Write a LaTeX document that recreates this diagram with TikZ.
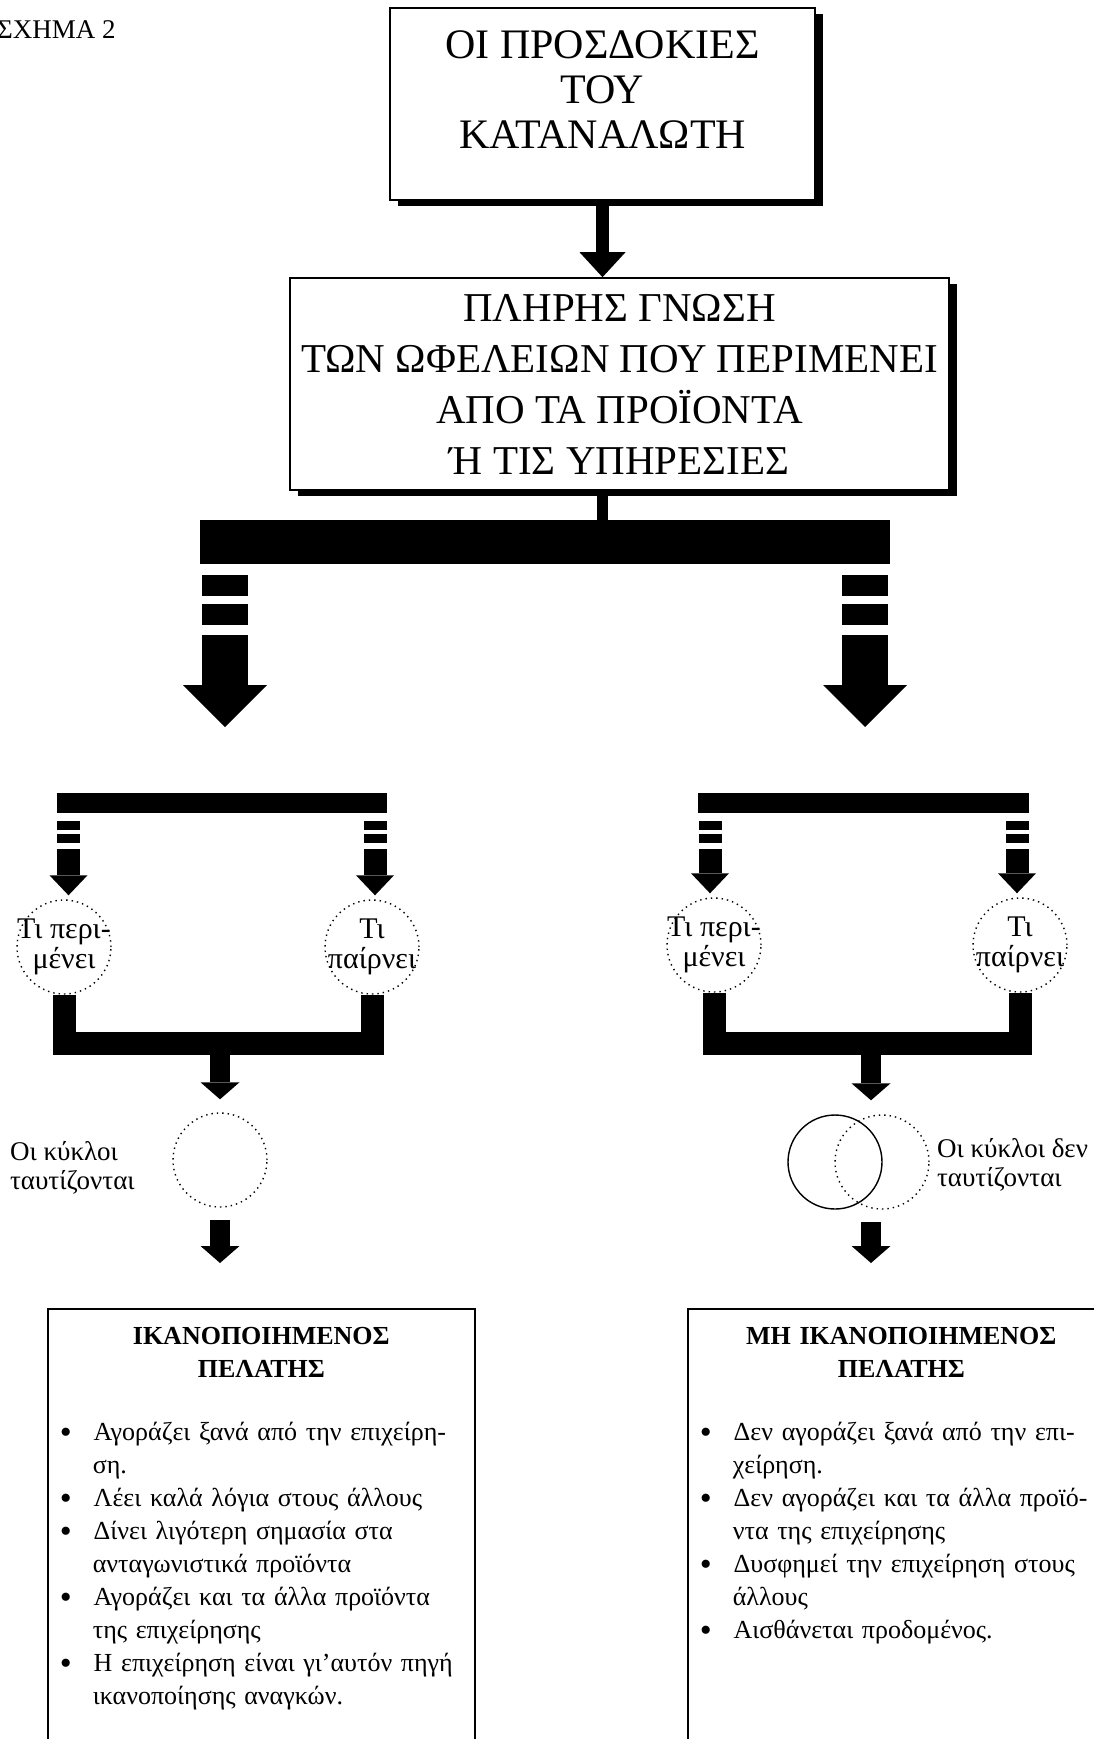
\documentclass[tikz,border=0pt]{standalone}
\usepackage{fontspec}
\setmainfont{Liberation Serif}
\usepackage{enumitem}
\usetikzlibrary{arrows.meta, positioning, shadows}

\tikzset{
  headbox/.style={draw, line width=0.8pt, fill=white, align=center, inner xsep=2pt,
    drop shadow={shadow xshift=4pt, shadow yshift=-3pt, opacity=1, fill=black}},
  ring/.style={circle, draw, dotted, line width=0.7pt, minimum size=47pt, inner sep=-6pt,
    align=center, font=\fontsize{15}{15}\selectfont},
  bigarrow/.style={line width=23pt, -{Triangle[width=42pt, length=21pt, line width=0pt]},
    dash pattern=on 11pt off 5.5pt on 10.5pt off 4pt on 10.5pt off 5pt on 200pt off 1pt},
  smallarrow/.style={line width=11.5pt, -{Triangle[width=19pt, length=10pt, line width=0pt]},
    dash pattern=on 5pt off 4pt on 4.5pt off 2pt on 4.5pt off 3pt on 100pt off 1pt},
  midarrow/.style={line width=10pt, -{Triangle[width=19.5pt, length=8.5pt, line width=0pt]}},
  ubar/.style={line width=11.5pt, line join=miter},
  outcome/.style={draw, line width=0.8pt, anchor=north west, text width=201.5pt,
    inner xsep=6pt, inner ysep=9pt, text depth=203pt, font=\fontsize{13}{16.5}\selectfont},
  sidetext/.style={anchor=west, align=left, font=\fontsize{13.5}{14.5}\selectfont}
}
\setlist[itemize]{label={\raisebox{-1.6pt}{\fontsize{17}{17}\selectfont\textbullet}}, leftmargin=16.5pt, labelsep=11pt,
  labelwidth=5.5pt, align=left, topsep=15pt, partopsep=0pt, itemsep=0pt, parsep=0pt, rightmargin=-20pt}

\begin{document}
\begin{tikzpicture}[x=0.5pt, y=-0.5pt]
  \useasboundingbox (0,0) rectangle (1093,1739);
  \node (fig) [anchor=west, font=\fontsize{13.5}{13.5}\selectfont] at (-10,30) {ΣΧΗΜΑ 2};
  \node (exp) [headbox, minimum width=212.5pt, minimum height=96pt, font=\fontsize{21}{22.5}\selectfont] at (602.5,104)
    {ΟΙ ΠΡΟΣΔΟΚΙΕΣ\\ΤΟΥ\\ΚΑΤΑΝΑΛΩΤΗ\rule[-14pt]{0pt}{14pt}};
  \node (know) [headbox, minimum width=329.5pt, minimum height=106pt, font=\fontsize{20.5}{25.5}\selectfont] at (619.5,384)
    {ΠΛΗΡΗΣ ΓΝΩΣΗ\\ΤΩΝ ΩΦΕΛΕΙΩΝ ΠΟΥ ΠΕΡΙΜΕΝΕΙ\\ΑΠΟ ΤΑ ΠΡΟΪΟΝΤΑ\\Ή ΤΙΣ ΥΠΗΡΕΣΙΕΣ};
  \coordinate (bl) at (225,542);
  \coordinate (br) at (865,542);
  \coordinate (al) at (225,727);
  \coordinate (ar) at (865,727);
  \draw[line width=6.5pt, -{Triangle[width=23pt, length=12.5pt, line width=0pt]}] (exp.south) -- (exp.south |- know.north);
  \draw[line width=5.5pt] (exp.south |- know.south) -- (exp.south |- bl);
  \draw[line width=22pt] ([xshift=-12.5pt]bl) -- ([xshift=12.5pt]br);
  \draw[bigarrow] (bl) -- (al);
  \draw[bigarrow] (br) -- (ar);

  \coordinate (tl1) at (68.5,803);
  \coordinate (tl2) at (375,803);
  \node (pl) [ring] at (64,947) {Τι περι-\\μένει};
  \node (pr) [ring] at (372,947) {Τι\\παίρνει};
  \draw[line width=10pt] ([xshift=-6pt]tl1) -- ([xshift=6pt]tl2);
  \draw[smallarrow, shorten >=2pt] (tl1) -- (tl1 |- pl.north);
  \draw[smallarrow, shorten >=2pt] (tl2) -- (tl2 |- pr.north);
  \coordinate (ml) at (220,1043.5);
  \draw[ubar] (pl.south) |- (ml) -| (pr.south);
  \node (same) [ring] at (220,1160) {};
  \draw[midarrow, shorten >=6.5pt] (ml) -- (ml |- same.north);
  \node (samelbl) [sidetext] at (3,1168) {Οι κύκλοι\\ταυτίζονται};

  \coordinate (tr1) at (710,803);
  \coordinate (tr2) at (1017,803);
  \node (ql) [ring] at (714,945) {Τι περι-\\μένει};
  \node (qr) [ring] at (1020,945) {Τι\\παίρνει};
  \draw[line width=10pt] ([xshift=-6pt]tr1) -- ([xshift=6pt]tr2);
  \draw[smallarrow, shorten >=2pt] (tr1) -- (tr1 |- ql.north);
  \draw[smallarrow, shorten >=2pt] (tr2) -- (tr2 |- qr.north);
  \coordinate (mr) at (871,1043.5);
  \draw[ubar] (ql.south) |- (mr) -| (qr.south);
  \node (diffa) [ring, solid] at (835,1162) {};
  \node (diffb) [ring] at (882,1162) {};
  \draw[midarrow, shorten >=7pt] (mr) -- (mr |- diffb.north);
  \node (difflbl) [sidetext] at (930,1165) {Οι κύκλοι δεν\\ταυτίζονται};

  \node (sat) [outcome] at (47,1308) {{\centering\bfseries ΙΚΑΝΟΠΟΙΗΜΕΝΟΣ\\ΠΕΛΑΤΗΣ\par}
    \raggedright
    \begin{itemize}
      \item Αγοράζει ξανά από την επιχείρη-\\ση.
      \item Λέει καλά λόγια στους άλλους
      \item Δίνει λιγότερη σημασία στα\\ανταγωνιστικά προϊόντα
      \item Αγοράζει και τα άλλα προϊόντα\\της επιχείρησης
      \item Η επιχείρηση είναι γι'αυτόν πηγή\\ικανοποίησης αναγκών.
    \end{itemize}};
  \node (unsat) [outcome] at (687,1308) {{\centering\bfseries ΜΗ ΙΚΑΝΟΠΟΙΗΜΕΝΟΣ\\ΠΕΛΑΤΗΣ\par}
    \raggedright
    \begin{itemize}
      \item Δεν αγοράζει ξανά από την επι-\\χείρηση.
      \item Δεν αγοράζει και τα άλλα προϊό-\\ντα της επιχείρησης
      \item Δυσφημεί την επιχείρηση στους\\άλλους
      \item Αισθάνεται προδομένος.
    \end{itemize}};
  \draw[midarrow, shorten <=6pt, shorten >=22.5pt] (same.south) -- (same.south |- sat.north);
  \draw[midarrow, shorten <=6pt, shorten >=22.5pt] (mr |- diffa.south) -- (mr |- unsat.north);
\end{tikzpicture}
\end{document}
